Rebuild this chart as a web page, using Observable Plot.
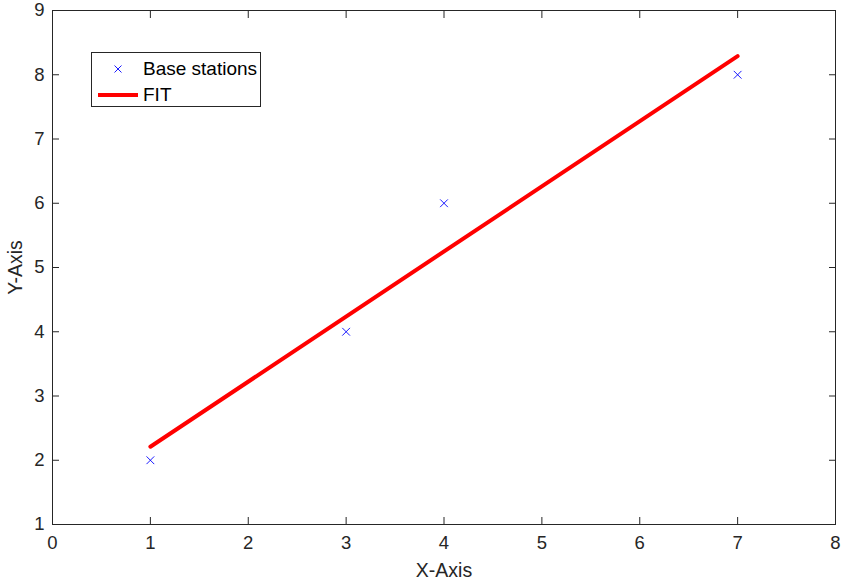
<!DOCTYPE html>
<html><head><meta charset="utf-8">
<script src="https://cdn.jsdelivr.net/npm/d3@7"></script>
<script src="https://cdn.jsdelivr.net/npm/@observablehq/plot@0.6"></script>
<style>
body{margin:0;background:#fff;}
#wrap{position:relative;width:843px;height:581px;font-family:"Liberation Sans",Arial,sans-serif;}
#legend{position:absolute;left:91px;top:52px;width:168px;height:53px;border:1px solid #262626;background:#fff;color:#000;font-size:19px;}
.row{position:absolute;left:0;height:22px;width:100%;}
.sym{position:absolute;}
.lab{position:absolute;left:51px;top:0;line-height:22px;}
</style></head>
<body><div id="wrap"><div id="legend"></div></div>
<script>
const stationX = [1, 3, 4, 7];
const stationY = [2, 4, 6, 8];
const fitX = [1, 7];
const fitY = [2.21, 8.29];
const xTicks = [0, 1, 2, 3, 4, 5, 6, 7, 8];
const yTicks = [1, 2, 3, 4, 5, 6, 7, 8, 9];
const seriesNames = ["Base stations", "FIT"];

const stations = stationX.map((x, i) => ({x, y: stationY[i]}));
const fit = fitX.map((x, i) => ({x, y: fitY[i]}));
const axisColor = "#262626";

const chart = Plot.plot({
  width: 843, height: 581,
  marginLeft: 52, marginRight: 8, marginTop: 10, marginBottom: 57,
  style: {fontFamily: "'Liberation Sans', Arial, sans-serif", fontSize: "18.5px", color: axisColor, background: "white"},
  x: {domain: [0, 8]},
  y: {domain: [1, 9]},
  marks: [
    Plot.frame({stroke: axisColor, strokeWidth: 1}),
    Plot.axisX(xTicks, {anchor: "bottom", tickSize: -7, tickFormat: () => "", stroke: axisColor, label: null}),
    Plot.axisX(xTicks, {anchor: "top", tickSize: -7, tickFormat: () => "", stroke: axisColor, label: null}),
    Plot.axisY(yTicks, {anchor: "left", tickSize: -7, tickFormat: () => "", stroke: axisColor, label: null}),
    Plot.axisY(yTicks, {anchor: "right", tickSize: -7, tickFormat: () => "", stroke: axisColor, label: null}),
    Plot.axisX(xTicks, {anchor: "bottom", tickSize: 0, tickPadding: 11, tickFormat: "d", fill: axisColor, fontSize: 18.5,
      label: "X-Axis", labelAnchor: "center", labelArrow: "none", labelOffset: 52}),
    Plot.axisY(yTicks, {anchor: "left", tickSize: 0, tickPadding: 8, tickFormat: "d", fill: axisColor, fontSize: 18.5,
      label: "Y-Axis", labelAnchor: "center", labelArrow: "none", labelOffset: 44}),
    Plot.line(fit, {x: "x", y: "y", stroke: "#ff0000", strokeWidth: 4}),
    Plot.dot(stations, {x: "x", y: "y", symbol: "times", r: 3.6, stroke: "#0000ff", strokeWidth: 0.9})
  ]
});
document.getElementById("wrap").prepend(chart);
chart.style.position = "absolute"; chart.style.left = "0"; chart.style.top = "0";
chart.querySelectorAll("g[aria-label='x-axis label'], g[aria-label='y-axis label']").forEach(g => g.setAttribute("font-size", "19.5"));

const legend = document.getElementById("legend");
legend.innerHTML = `
<div class="row" style="top:5px"><svg class="sym" style="left:21px;top:6px" width="10" height="10"><path d="M1.5,1.5L8.5,8.5M8.5,1.5L1.5,8.5" stroke="#0000ff" stroke-width="0.9"/></svg><span class="lab">${seriesNames[0]}</span></div>
<div class="row" style="top:31px"><span class="sym" style="left:6px;top:9px;width:40px;height:4px;background:#ff0000;"></span><span class="lab">${seriesNames[1]}</span></div>`;
</script></body></html>
